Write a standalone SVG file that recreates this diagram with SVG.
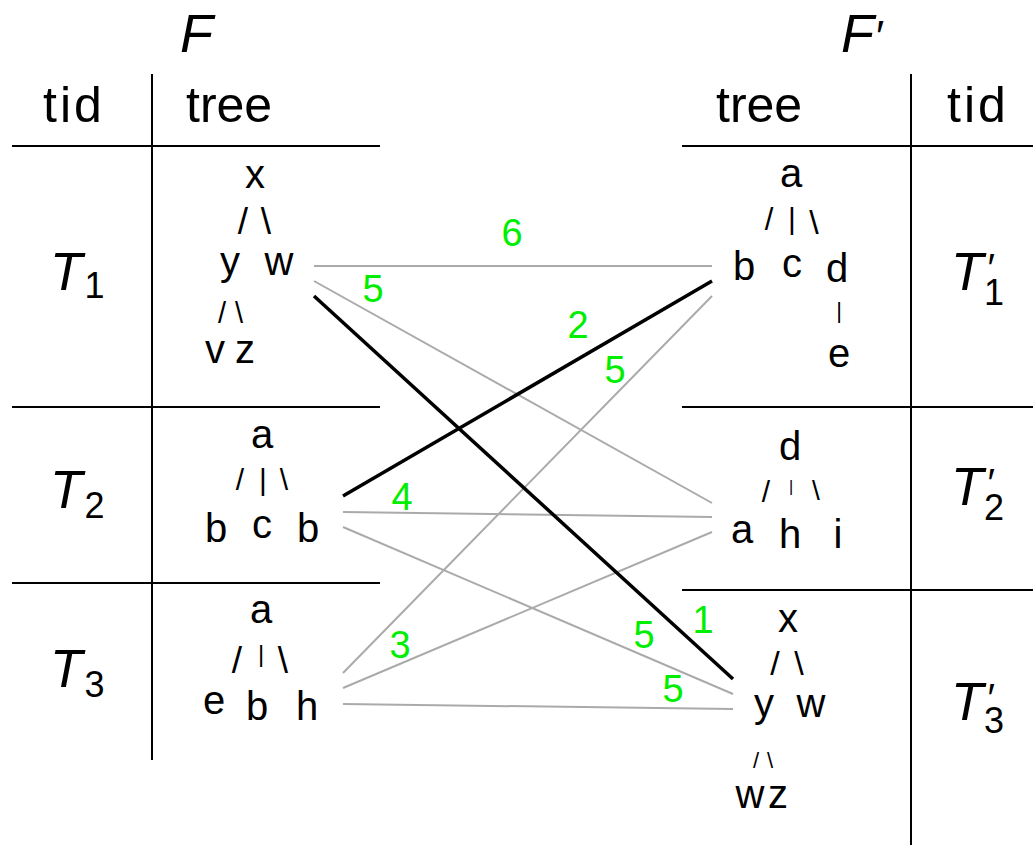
<svg xmlns="http://www.w3.org/2000/svg" width="1033" height="846" viewBox="0 0 1033 846">
<style>
text{font-family:"Liberation Sans","DejaVu Sans",sans-serif;fill:#000}
.hd{font-size:50px}
.tid{letter-spacing:3px}
.it{font-style:italic;font-size:53px}
.sub{font-size:36px;font-style:normal}
.pr{font-size:40px;font-style:normal}
.n{font-size:40px;text-anchor:middle}
.w{fill:#00ee00;font-size:38px;text-anchor:middle}
.rule{stroke:#000;stroke-width:2;fill:none}
.g{stroke:#aaa;stroke-width:2;fill:none}
.b{stroke:#000;stroke-width:3.5;fill:none}
</style>
<g id="table-F">
<text x="180" y="52" style="font-style:italic;font-size:54px">F</text>
<text class="hd tid" x="43" y="122">tid</text>
<text class="hd" x="186" y="122">tree</text>
<line class="rule" x1="152" y1="74" x2="152" y2="760"/>
<line class="rule" x1="12" y1="146" x2="380" y2="146"/>
<line class="rule" x1="12" y1="407" x2="380" y2="407"/>
<line class="rule" x1="12" y1="583" x2="380" y2="583"/>
</g>
<g id="table-Fp">
<text x="841" y="52" style="font-style:italic;font-size:54px">F<tspan style="font-style:normal;font-size:44px" dx="2">′</tspan></text>
<text class="hd" x="716" y="122">tree</text>
<text class="hd tid" x="947" y="122">tid</text>
<line class="rule" x1="911" y1="74" x2="911" y2="845"/>
<line class="rule" x1="682" y1="146" x2="1033" y2="146"/>
<line class="rule" x1="682" y1="407" x2="1033" y2="407"/>
<line class="rule" x1="682" y1="590" x2="1033" y2="590"/>
</g>
<g id="tid-T1"><text class="it" x="50" y="290">T<tspan class="sub" dx="2" dy="8">1</tspan></text></g>
<g id="tid-T2"><text class="it" x="50" y="508">T<tspan class="sub" dx="2" dy="10">2</tspan></text></g>
<g id="tid-T3"><text class="it" x="50" y="687">T<tspan class="sub" dx="2" dy="10">3</tspan></text></g>
<g id="tid-T1p"><text class="it" x="951" y="290">T<tspan class="pr" dx="4" dy="-8">′</tspan><tspan class="sub" dx="-11" dy="23">1</tspan></text></g>
<g id="tid-T2p"><text class="it" x="951" y="505">T<tspan class="pr" dx="4" dy="-8">′</tspan><tspan class="sub" dx="-11" dy="23">2</tspan></text></g>
<g id="tid-T3p"><text class="it" x="951" y="720">T<tspan class="pr" dx="4" dy="-8">′</tspan><tspan class="sub" dx="-11" dy="21">3</tspan></text></g>
<g id="connectors">
<line class="g" x1="314" y1="266" x2="712" y2="266"/>
<line class="g" x1="314" y1="281" x2="712" y2="503"/>
<line class="g" x1="343" y1="512" x2="712" y2="517"/>
<line class="g" x1="343" y1="527" x2="733" y2="694"/>
<line class="g" x1="343" y1="673" x2="712" y2="296"/>
<line class="g" x1="343" y1="688" x2="712" y2="532"/>
<line class="g" x1="343" y1="704" x2="733" y2="709"/>
<line class="b" x1="314" y1="296" x2="733" y2="679"/>
<line class="b" x1="343" y1="496" x2="712" y2="281"/>
<text class="w" x="512" y="246">6</text>
<text class="w" x="373" y="302">5</text>
<text class="w" x="578" y="338">2</text>
<text class="w" x="615" y="383">5</text>
<text class="w" x="402" y="510">4</text>
<text class="w" x="400" y="658">3</text>
<text class="w" x="644" y="648">5</text>
<text class="w" x="673" y="702">5</text>
<text class="w" x="703" y="633">1</text>
</g>
<g id="tree-T1">
<text class="n" x="255" y="188">x</text>
<text class="n" style="font-size:37px" x="243" y="234">/</text>
<text class="n" style="font-size:37px" x="266" y="234">\</text>
<text class="n" x="230" y="275">y</text>
<text class="n" x="279" y="275">w</text>
<text class="n" style="font-size:29px" x="222" y="323">/</text>
<text class="n" style="font-size:29px" x="239" y="323">\</text>
<text class="n" x="215" y="363">v</text>
<text class="n" x="245" y="363">z</text>
</g>
<g id="tree-T2">
<text class="n" x="262" y="448">a</text>
<text class="n" style="font-size:30px" x="240" y="490">/</text>
<text class="n" style="font-size:30px" x="263" y="490">|</text>
<text class="n" style="font-size:30px" x="284" y="490">\</text>
<text class="n" x="216" y="542">b</text>
<text class="n" x="262" y="538">c</text>
<text class="n" x="308" y="542">b</text>
</g>
<g id="tree-T3">
<text class="n" x="261" y="623">a</text>
<text class="n" style="font-size:37px" x="237" y="673">/</text>
<text class="n" style="font-size:24px" x="261" y="662">|</text>
<text class="n" style="font-size:37px" x="283" y="673">\</text>
<text class="n" x="214" y="714">e</text>
<text class="n" x="257" y="720">b</text>
<text class="n" x="307" y="720">h</text>
</g>
<g id="tree-T1p">
<text class="n" x="791" y="187">a</text>
<text class="n" style="font-size:31px" x="769" y="230">/</text>
<text class="n" style="font-size:30px" x="792" y="229">|</text>
<text class="n" style="font-size:34px" x="814" y="234">\</text>
<text class="n" x="744" y="280">b</text>
<text class="n" x="792" y="277">c</text>
<text class="n" x="837" y="282">d</text>
<text class="n" style="font-size:22px" x="839" y="318">|</text>
<text class="n" x="839" y="367">e</text>
</g>
<g id="tree-T2p">
<text class="n" x="790" y="460">d</text>
<text class="n" style="font-size:30px" x="766" y="502">/</text>
<text class="n" style="font-size:16px" x="791" y="492">|</text>
<text class="n" style="font-size:28px" x="816" y="500">\</text>
<text class="n" x="742" y="543">a</text>
<text class="n" x="790" y="548">h</text>
<text class="n" x="838" y="548">i</text>
</g>
<g id="tree-T3p">
<text class="n" x="788" y="632">x</text>
<text class="n" style="font-size:34px" x="775" y="675">/</text>
<text class="n" style="font-size:34px" x="799" y="675">\</text>
<text class="n" x="764" y="717">y</text>
<text class="n" x="811" y="717">w</text>
<text class="n" style="font-size:22px" x="756" y="768">/</text>
<text class="n" style="font-size:22px" x="770" y="768">\</text>
<text class="n" x="750" y="808">w</text>
<text class="n" x="778" y="808">z</text>
</g>
</svg>
